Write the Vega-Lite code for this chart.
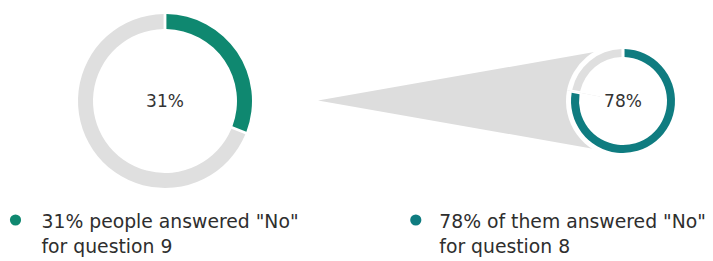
{
  "$schema": "https://vega.github.io/schema/vega-lite/v6.json",
  "padding": 0,
  "spacing": 0,
  "bounds": "flush",
  "background": "white",
  "config": {"view": {"stroke": null}, "font": "DejaVu Sans"},
  "datasets": {
    "donuts": [
      {"q": "Q9", "part": "No", "start": 0, "end": 31, "label": "31%"},
      {"q": "Q9", "part": "Rest", "start": 31, "end": 100, "label": ""},
      {"q": "Q8", "part": "No", "start": 0, "end": 78, "label": "78%"},
      {"q": "Q8", "part": "Rest", "start": 78, "end": 100, "label": ""}
    ],
    "funnel": [
      {"stage": "tip", "lo": 0, "hi": 0},
      {"stage": "base", "lo": -1, "hi": 1}
    ],
    "notes": [
      {"q": "Q9", "line": 1, "text": "31% people answered \"No\""},
      {"q": "Q9", "line": 2, "text": "for question 9"},
      {"q": "Q8", "line": 1, "text": "78% of them answered \"No\""},
      {"q": "Q8", "line": 2, "text": "for question 8"}
    ]
  },
  "vconcat": [
    {
      "width": 713,
      "height": 202,
      "resolve": {"scale": {"x": "independent", "y": "independent", "color": "independent"}},
      "layer": [
        {
          "data": {"name": "funnel"},
          "mark": {"type": "area", "color": "#dddddd", "interpolate": "linear", "opacity": 1},
          "encoding": {
            "x": {"field": "stage", "type": "ordinal", "scale": {"type": "point", "domain": ["tip", "base"], "range": [318, 600], "padding": 0}, "axis": null},
            "y": {"field": "lo", "type": "quantitative", "stack": null, "scale": {"domain": [-1, 1], "range": [150, 51], "nice": false, "zero": false}, "axis": null},
            "y2": {"field": "hi"}
          }
        },
        {
          "data": {"name": "donuts"},
          "transform": [{"filter": "datum.q == 'Q8'"}],
          "mark": {"type": "arc", "radius": 57, "radius2": 0, "color": "white"},
          "encoding": {
            "x": {"field": "q", "type": "nominal", "scale": {"type": "point", "domain": ["Q9", "Q8"], "range": [165, 623], "padding": 0}, "axis": null},
            "theta": {"field": "start", "type": "quantitative", "stack": null, "scale": {"domain": [0, 100], "range": [0, 6.283185307179586]}},
            "theta2": {"field": "end"}
          }
        },
        {
          "data": {"name": "donuts"},
          "transform": [{"filter": "datum.q == 'Q9'"}],
          "mark": {"type": "arc", "radius": 87, "radius2": 72, "padAngle": 0.025},
          "encoding": {
            "x": {"field": "q", "type": "nominal", "scale": {"type": "point", "domain": ["Q9", "Q8"], "range": [165, 623], "padding": 0}, "axis": null},
            "theta": {"field": "start", "type": "quantitative", "stack": null, "scale": {"domain": [0, 100], "range": [0, 6.283185307179586]}},
            "theta2": {"field": "end"},
            "color": {"field": "part", "type": "nominal", "scale": {"domain": ["No", "Rest"], "range": ["#0f8870", "#dfdfdf"]}, "legend": null}
          }
        },
        {
          "data": {"name": "donuts"},
          "transform": [{"filter": "datum.q == 'Q8'"}],
          "mark": {"type": "arc", "radius": 52, "radius2": 44, "padAngle": 0.045},
          "encoding": {
            "x": {"field": "q", "type": "nominal", "scale": {"type": "point", "domain": ["Q9", "Q8"], "range": [165, 623], "padding": 0}, "axis": null},
            "theta": {"field": "start", "type": "quantitative", "stack": null, "scale": {"domain": [0, 100], "range": [0, 6.283185307179586]}},
            "theta2": {"field": "end"},
            "color": {"field": "part", "type": "nominal", "scale": {"domain": ["No", "Rest"], "range": ["#0f7c80", "#dfdfdf"]}, "legend": null}
          }
        },
        {
          "data": {"name": "donuts"},
          "transform": [{"filter": "datum.part == 'No'"}],
          "mark": {"type": "text", "align": "center", "baseline": "middle", "fontSize": 17, "color": "#333333", "dy": 1},
          "encoding": {
            "x": {"field": "q", "type": "nominal", "scale": {"type": "point", "domain": ["Q9", "Q8"], "range": [165, 623], "padding": 0}, "axis": null},
            "text": {"field": "label"}
          }
        }
      ]
    },
    {
      "width": 713,
      "height": 59,
      "resolve": {"scale": {"x": "independent", "y": "independent", "color": "independent"}},
      "layer": [
        {
          "data": {"name": "notes"},
          "transform": [{"filter": "datum.line == 1"}],
          "mark": {"type": "point", "filled": true, "size": 125, "opacity": 1, "shape": "circle"},
          "encoding": {
            "x": {"field": "q", "type": "nominal", "scale": {"type": "point", "domain": ["Q9", "Q8"], "range": [15.5, 415.8], "padding": 0}, "axis": null},
            "y": {"field": "line", "type": "ordinal", "scale": {"type": "point", "domain": [1, 2], "range": [18, 43], "padding": 0}, "axis": null},
            "color": {"field": "q", "type": "nominal", "scale": {"domain": ["Q9", "Q8"], "range": ["#0f8870", "#0f7c80"]}, "legend": null}
          }
        },
        {
          "data": {"name": "notes"},
          "mark": {"type": "text", "align": "left", "baseline": "alphabetic", "fontSize": 18.8, "color": "#2e2e2e"},
          "encoding": {
            "x": {"field": "q", "type": "nominal", "scale": {"type": "point", "domain": ["Q9", "Q8"], "range": [41.5, 439.3], "padding": 0}, "axis": null},
            "y": {"field": "line", "type": "ordinal", "scale": {"type": "point", "domain": [1, 2], "range": [26, 51], "padding": 0}, "axis": null},
            "text": {"field": "text"}
          }
        }
      ]
    }
  ]
}
